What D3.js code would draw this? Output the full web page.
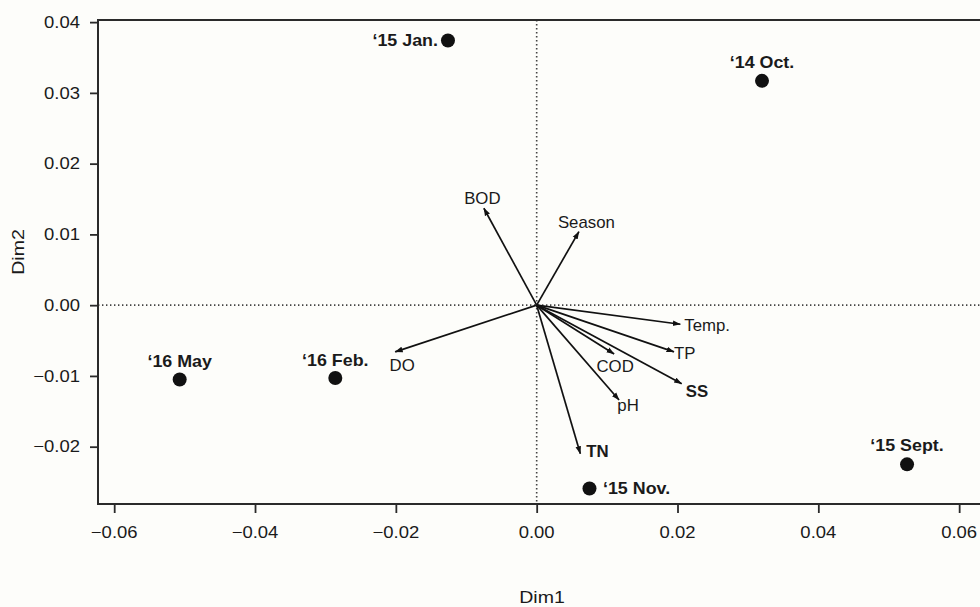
<!DOCTYPE html>
<html>
<head>
<meta charset="utf-8">
<script src="https://cdn.jsdelivr.net/npm/d3@7"></script>
<style>
  html, body { margin: 0; padding: 0; background: #fdfdfa; }
  svg { display: block; }
  text { font-family: "Liberation Sans", Arial, Helvetica, sans-serif; fill: #1a1a1a; }
</style>
</head>
<body>
<svg id="chart" width="980" height="607"></svg>
<script>
// Sampling campaigns (site scores)
const sampleNames = ["\u201815 Jan.", "\u201814 Oct.", "\u201816 May", "\u201816 Feb.", "\u201815 Nov.", "\u201815 Sept."];
const sampleDim1  = [-0.0126, 0.0320, -0.0507, -0.0286, 0.0075, 0.0526];
const sampleDim2  = [0.0374, 0.0317, -0.0105, -0.0103, -0.0259, -0.0225];

// Environmental variables (biplot arrows)
const variableNames = ["BOD", "Season", "DO", "COD", "pH", "TN", "Temp.", "TP", "SS"];
const variableDim1  = [-0.0075, 0.0060, -0.0201, 0.0110, 0.0117, 0.0062, 0.0204, 0.0195, 0.0206];
const variableDim2  = [0.0137, 0.0104, -0.0066, -0.0069, -0.0134, -0.0210, -0.0027, -0.0066, -0.0111];
const boldVariables = ["TN", "SS"];

// Axis ticks
const xTicks = [-0.06, -0.04, -0.02, 0.00, 0.02, 0.04, 0.06];
const yTicks = [-0.02, -0.01, 0.00, 0.01, 0.02, 0.03, 0.04];
const xTitle = "Dim1";
const yTitle = "Dim2";

// ---- layout ----
const plot = { left: 98, right: 1000, top: 20, bottom: 504 };

const svg = d3.select("#chart");
svg.append("rect").attr("width", 980).attr("height", 607).attr("fill", "#fdfdfa");

const x = d3.scaleLinear().domain([-0.0623, 0.0658]).range([plot.left, plot.right]);
const y = d3.scaleLinear().domain([-0.0281, 0.0403]).range([plot.bottom, plot.top]);
const fmt = d3.format(".2f");

// text helper: Helvetica-like text, slightly widened
function label(g, px, py, str, opts) {
  const o = Object.assign({ size: 16, anchor: "start", weight: "normal", sx: 1.1, rotate: 0 }, opts || {});
  return g.append("text")
    .attr("transform", `translate(${px},${py})` + (o.rotate ? ` rotate(${o.rotate})` : "") + ` scale(${o.sx},1)`)
    .attr("text-anchor", o.anchor)
    .attr("font-size", o.size)
    .attr("font-weight", o.weight)
    .text(str);
}

// arrowhead marker
svg.append("defs").append("marker")
  .attr("id", "head")
  .attr("viewBox", "0 -4 8 8")
  .attr("refX", 7.5).attr("refY", 0)
  .attr("markerUnits", "userSpaceOnUse")
  .attr("markerWidth", 8).attr("markerHeight", 8)
  .attr("orient", "auto")
  .append("path")
  .attr("d", "M0,-2.8L8,0L0,2.8Z")
  .attr("fill", "#111");

// zero reference lines (dotted)
svg.append("line")
  .attr("x1", x(0)).attr("x2", x(0)).attr("y1", plot.top).attr("y2", plot.bottom)
  .attr("stroke", "#444").attr("stroke-width", 1.6).attr("stroke-dasharray", "1.4,2.6");
svg.append("line")
  .attr("x1", plot.left).attr("x2", plot.right).attr("y1", y(0)).attr("y2", y(0))
  .attr("stroke", "#444").attr("stroke-width", 1.6).attr("stroke-dasharray", "1.4,2.6");

// plot frame
svg.append("rect")
  .attr("x", plot.left).attr("y", plot.top)
  .attr("width", plot.right - plot.left).attr("height", plot.bottom - plot.top)
  .attr("fill", "none").attr("stroke", "#2a2a2a").attr("stroke-width", 2);

// x axis
const xAxis = d3.axisBottom(x).tickValues(xTicks).tickSize(8).tickFormat("");
const gx = svg.append("g").attr("transform", `translate(0,${plot.bottom + 1})`).call(xAxis);
gx.select(".domain").remove();
gx.selectAll(".tick line").attr("stroke", "#2a2a2a").attr("stroke-width", 1.8);
xTicks.forEach(v => label(svg, x(v), 537.5, fmt(v), { size: 16.5, anchor: "middle", sx: 1.12 }));

// y axis
const yAxis = d3.axisLeft(y).tickValues(yTicks).tickSize(8).tickFormat("");
const gy = svg.append("g").attr("transform", `translate(${plot.left},0)`).call(yAxis);
gy.select(".domain").remove();
gy.selectAll(".tick line").attr("stroke", "#2a2a2a").attr("stroke-width", 1.8);
yTicks.forEach(v => label(svg, 80, y(v) + 5.8, fmt(v), { size: 16.5, anchor: "end", sx: 1.12 }));

// axis titles
label(svg, 542, 603, xTitle, { size: 17, anchor: "middle", sx: 1.15 });
label(svg, 24, 252, yTitle, { size: 17, anchor: "middle", sx: 1.15, rotate: -90 });

// variable arrows
const variables = variableNames.map((n, i) => ({ name: n, d1: variableDim1[i], d2: variableDim2[i] }));
svg.append("g").selectAll("line").data(variables).join("line")
  .attr("x1", x(0)).attr("y1", y(0))
  .attr("x2", d => x(d.d1)).attr("y2", d => y(d.d2))
  .attr("stroke", "#111").attr("stroke-width", 1.7)
  .attr("marker-end", "url(#head)");

// label placement relative to arrow tips: [dx, dy, anchor]
const varLabelPlace = {
  "BOD":    [-1.5, -4.5, "middle"],
  "Season": [-21, -4, "start"],
  "DO":     [7, 19, "middle"],
  "COD":    [1, 18, "middle"],
  "pH":     [9, 11.5, "middle"],
  "TN":     [6, 3, "start"],
  "Temp.":  [4, 6.5, "start"],
  "TP":     [0, 7.5, "start"],
  "SS":     [4, 13.5, "start"]
};
variables.forEach(d => {
  const p = varLabelPlace[d.name];
  const bold = boldVariables.includes(d.name);
  label(svg, x(d.d1) + p[0], y(d.d2) + p[1], d.name,
    { size: 16, anchor: p[2], weight: bold ? "bold" : "normal", sx: 1.05 });
});

// sample points
const samples = sampleNames.map((n, i) => ({ name: n, d1: sampleDim1[i], d2: sampleDim2[i] }));
svg.append("g").selectAll("circle").data(samples).join("circle")
  .attr("cx", d => x(d.d1)).attr("cy", d => y(d.d2))
  .attr("r", 7).attr("fill", "#111");

const sampleLabelPlace = [
  [-10, 5.5, "end"],
  [0, -12.5, "middle"],
  [0, -12.5, "middle"],
  [0, -12.5, "middle"],
  [13.5, 6, "start"],
  [0, -13, "middle"]
];
samples.forEach((d, i) => {
  const p = sampleLabelPlace[i];
  label(svg, x(d.d1) + p[0], y(d.d2) + p[1], d.name, { size: 17, anchor: p[2], weight: "bold", sx: 1.05 });
});
</script>
</body>
</html>
